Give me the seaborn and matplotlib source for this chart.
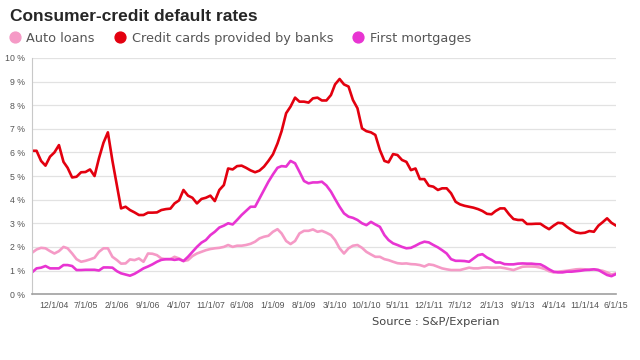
import matplotlib
matplotlib.use("Agg")
import matplotlib.pyplot as plt
from matplotlib.lines import Line2D
import numpy as np
import pandas as pd
import seaborn as sns

# monthly index values (%), Jul 2004 - Jun 2015
months = pd.date_range("2004-07-01", periods=132, freq="MS")

auto_loans = [
    1.75, 1.89, 1.96, 1.94, 1.82, 1.72, 1.82, 2.00, 1.94, 1.72,
    1.48, 1.37, 1.41, 1.47, 1.54, 1.79, 1.94, 1.94, 1.58, 1.44,
    1.29, 1.30, 1.47, 1.44, 1.51, 1.37, 1.72, 1.71, 1.65, 1.51,
    1.48, 1.48, 1.58, 1.51, 1.40, 1.44, 1.61, 1.72, 1.79, 1.86,
    1.91, 1.94, 1.96, 2.00, 2.08, 2.00, 2.05, 2.05, 2.08, 2.13,
    2.22, 2.36, 2.43, 2.47, 2.64, 2.75, 2.57, 2.25, 2.12, 2.25,
    2.57, 2.68, 2.68, 2.74, 2.64, 2.68, 2.60, 2.50, 2.29, 1.94,
    1.72, 1.94, 2.05, 2.08, 1.96, 1.79, 1.68, 1.58, 1.58, 1.48,
    1.44, 1.37, 1.31, 1.29, 1.30, 1.27, 1.26, 1.23, 1.17, 1.26,
    1.23, 1.16, 1.09, 1.05, 1.02, 1.02, 1.02, 1.07, 1.12, 1.09,
    1.09, 1.12, 1.13, 1.12, 1.12, 1.13, 1.10, 1.06, 1.02, 1.09,
    1.16, 1.17, 1.17, 1.16, 1.12, 1.06, 0.97, 0.92, 0.95, 0.97,
    0.99, 1.02, 1.05, 1.06, 1.05, 1.03, 1.05, 1.02, 0.99, 0.92,
    0.83, 0.88,
]

credit_cards = [
    6.07, 6.07, 5.64, 5.44, 5.82, 6.00, 6.31, 5.60, 5.35, 4.94,
    4.97, 5.16, 5.17, 5.28, 5.00, 5.75, 6.41, 6.85, 5.65, 4.59,
    3.63, 3.70, 3.56, 3.46, 3.35, 3.35, 3.45, 3.45, 3.46, 3.56,
    3.60, 3.62, 3.84, 3.97, 4.41, 4.17, 4.08, 3.84, 4.03, 4.08,
    4.17, 3.94, 4.41, 4.62, 5.32, 5.28, 5.42, 5.44, 5.35, 5.24,
    5.16, 5.23, 5.40, 5.64, 5.92, 6.38, 6.90, 7.66, 7.94, 8.32,
    8.15, 8.15, 8.11, 8.29, 8.32, 8.20, 8.20, 8.43, 8.88, 9.11,
    8.88, 8.79, 8.22, 7.87, 7.02, 6.90, 6.85, 6.74, 6.10, 5.64,
    5.58, 5.93, 5.89, 5.68, 5.60, 5.25, 5.32, 4.87, 4.87, 4.59,
    4.55, 4.41, 4.48, 4.48, 4.27, 3.91, 3.80, 3.74, 3.70, 3.66,
    3.60, 3.52, 3.40, 3.38, 3.52, 3.63, 3.63, 3.38, 3.18, 3.14,
    3.14, 2.97, 2.97, 2.98, 2.98, 2.85, 2.75, 2.90, 3.02, 3.00,
    2.85, 2.71, 2.61, 2.58, 2.60, 2.67, 2.64, 2.90, 3.04, 3.21,
    3.02, 2.90,
]

first_mortgages = [
    0.92, 1.09, 1.12, 1.19, 1.09, 1.09, 1.09, 1.23, 1.23, 1.19,
    1.02, 1.02, 1.03, 1.03, 1.03, 1.00, 1.13, 1.13, 1.12, 0.97,
    0.88, 0.83, 0.78, 0.86, 0.97, 1.09, 1.17, 1.26, 1.37, 1.45,
    1.48, 1.48, 1.45, 1.48, 1.40, 1.58, 1.79, 2.00, 2.18, 2.29,
    2.50, 2.64, 2.82, 2.90, 3.00, 2.95, 3.14, 3.35, 3.52, 3.70,
    3.70, 4.05, 4.41, 4.76, 5.07, 5.35, 5.42, 5.40, 5.64, 5.54,
    5.18, 4.79, 4.69, 4.73, 4.73, 4.76, 4.60, 4.34, 4.03, 3.70,
    3.42, 3.28, 3.23, 3.14, 3.00, 2.92, 3.06, 2.95, 2.85, 2.50,
    2.29, 2.15, 2.08, 2.00, 1.94, 1.96, 2.05, 2.15, 2.22, 2.19,
    2.08, 1.98, 1.86, 1.72, 1.48, 1.41, 1.41, 1.40, 1.37, 1.51,
    1.65, 1.69, 1.55, 1.45, 1.34, 1.34, 1.27, 1.26, 1.26, 1.29,
    1.30, 1.29, 1.29, 1.27, 1.26, 1.16, 1.05, 0.95, 0.92, 0.92,
    0.95, 0.95, 0.97, 0.99, 1.02, 1.03, 1.05, 1.02, 0.92, 0.81,
    0.76, 0.85,
]

series_names = ["Auto loans", "Credit cards provided by banks", "First mortgages"]
colors = ["#f59ac6", "#e3000f", "#e834d2"]
y_ticks = list(range(0, 11))

df = pd.DataFrame({
    "month": np.tile(months, 3),
    "rate": auto_loans + credit_cards + first_mortgages,
    "series": np.repeat(series_names, len(months)),
})

sns.set_style("white")
plt.rcParams["font.family"] = ["DejaVu Sans"]

fig = plt.figure(figsize=(6.4, 3.6), dpi=100)
ax = fig.add_axes([0.05, 0.183, 0.9125, 0.656])

sns.lineplot(
    data=df, x="month", y="rate", hue="series", hue_order=series_names,
    palette=colors, linewidth=1.9, legend=False, ax=ax,
)

# axes styling
ax.set_xlim(months[0], months[-1])
ax.set_ylim(0, 10)
ax.set_yticks(y_ticks)
ax.set_yticklabels([f"{v} %" for v in y_ticks])
tick_pos = months[5::7]
ax.set_xticks(tick_pos)
ax.set_xticklabels([f"{d.month}/1/{d.year % 100:02d}" for d in tick_pos])
ax.tick_params(axis="both", length=0, labelsize=6.3, labelcolor="#555555",
               pad=5)
for lab in ax.get_xticklabels() + ax.get_yticklabels():
    lab.set_family("Liberation Sans")
ax.yaxis.grid(True, color="#e2e2e2", linewidth=0.9)
ax.set_axisbelow(True)
for side in ["top", "right"]:
    ax.spines[side].set_visible(False)
ax.spines["left"].set_color("#c8c8c8")
ax.spines["bottom"].set_color("#a0a0a0")
ax.spines["bottom"].set_linewidth(1.2)
ax.set_xlabel("")
ax.set_ylabel("")

# title, legend, source
fig.text(0.015, 0.955, "Consumer-credit default rates", fontsize=12.5,
         fontweight="bold", family="Liberation Sans", va="center", ha="left")
handles = [Line2D([], [], marker="o", linestyle="", markersize=7.8,
                  markerfacecolor=c, markeredgecolor=c) for c in colors]
fig.legend(handles, series_names, loc="center left",
           bbox_to_anchor=(0.0, 0.893), ncol=3, frameon=False,
           fontsize=9.3, labelcolor="#555555", handletextpad=0.15,
           handlelength=1.5, columnspacing=1.2, borderaxespad=0)
fig.text(0.582, 0.105, "Source : S&P/Experian", fontsize=8.2,
         color="#444444", va="center", ha="left")

fig.savefig("out.png", dpi=100)
plt.close(fig)
